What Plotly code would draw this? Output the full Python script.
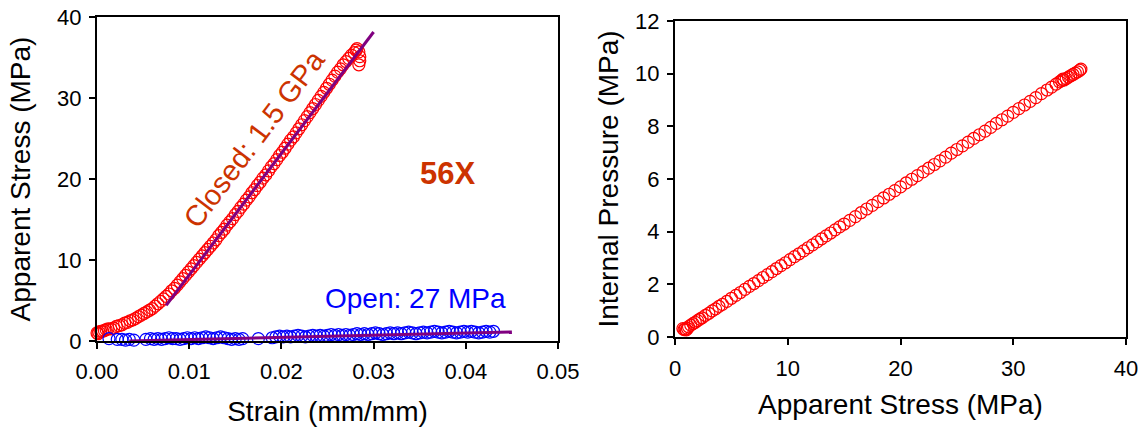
import plotly.graph_objects as go

# ---- Left panel: apparent stress vs strain ----
closed_strain = [
    0.0000, 0.0001, 0.0002, 0.0004, 0.0006, 0.0008, 0.0010, 0.0012, 0.0015, 0.0018,
    0.0021, 0.0024, 0.0027, 0.0030, 0.0033, 0.0036, 0.0039, 0.0042, 0.0045, 0.0048,
    0.0051, 0.0054, 0.0057, 0.0060, 0.0063, 0.0066, 0.0069, 0.0072, 0.0075, 0.0078,
    0.0081, 0.0084, 0.0087, 0.0090, 0.0093, 0.0096, 0.0099, 0.0102, 0.0105, 0.0108,
    0.0111, 0.0114, 0.0117, 0.0120, 0.0123, 0.0126, 0.0129, 0.0132, 0.0135, 0.0138,
    0.0141, 0.0144, 0.0147, 0.0150, 0.0153, 0.0156, 0.0159, 0.0162, 0.0165, 0.0168,
    0.0171, 0.0174, 0.0177, 0.0180, 0.0183, 0.0186, 0.0189, 0.0192, 0.0195, 0.0198,
    0.0201, 0.0204, 0.0207, 0.0210, 0.0213, 0.0216, 0.0219, 0.0222, 0.0225, 0.0228,
    0.0231, 0.0234, 0.0237, 0.0240, 0.0243, 0.0246, 0.0249, 0.0252, 0.0255, 0.0258,
    0.0261, 0.0264, 0.0267, 0.0270, 0.0273, 0.0276, 0.0279, 0.0281, 0.0282, 0.0284,
    0.0285, 0.0285, 0.0284,
]
closed_stress = [
    1.0, 0.9, 1.1, 1.2, 1.2, 1.3, 1.4, 1.5, 1.5, 1.6,
    1.8, 1.9, 2.0, 2.2, 2.3, 2.5, 2.6, 2.8, 3.0, 3.2,
    3.4, 3.6, 3.8, 4.0, 4.3, 4.6, 4.9, 5.2, 5.5, 5.8,
    6.2, 6.5, 6.9, 7.3, 7.7, 8.1, 8.5, 8.9, 9.3, 9.7,
    10.1, 10.5, 10.9, 11.3, 11.7, 12.1, 12.5, 13.0, 13.4, 13.8,
    14.3, 14.7, 15.1, 15.6, 16.0, 16.5, 16.9, 17.4, 17.8, 18.3,
    18.7, 19.2, 19.6, 20.1, 20.5, 21.0, 21.5, 21.9, 22.4, 22.9,
    23.3, 23.8, 24.3, 24.8, 25.2, 25.7, 26.2, 26.7, 27.2, 27.7,
    28.2, 28.7, 29.2, 29.7, 30.2, 30.7, 31.2, 31.7, 32.2, 32.7,
    33.2, 33.6, 34.1, 34.5, 34.9, 35.3, 35.6, 35.9, 36.1, 35.7,
    35.1, 34.6, 34.1,
]

open_strain = [
    0.0013, 0.0022, 0.0027, 0.0031, 0.0035, 0.0040, 0.0053, 0.0058, 0.0062, 0.0066,
    0.0070, 0.0074, 0.0078, 0.0082, 0.0086, 0.0090, 0.0094, 0.0098, 0.0102, 0.0106,
    0.0110, 0.0114, 0.0118, 0.0122, 0.0126, 0.0130, 0.0134, 0.0138, 0.0142, 0.0146,
    0.0150, 0.0154, 0.0158, 0.0175, 0.0190, 0.0194, 0.0198, 0.0202, 0.0206, 0.0210,
    0.0214, 0.0218, 0.0222, 0.0226, 0.0230, 0.0234, 0.0238, 0.0242, 0.0246, 0.0250,
    0.0254, 0.0258, 0.0262, 0.0266, 0.0270, 0.0274, 0.0278, 0.0282, 0.0286, 0.0290,
    0.0294, 0.0298, 0.0302, 0.0306, 0.0310, 0.0314, 0.0318, 0.0322, 0.0326, 0.0330,
    0.0334, 0.0338, 0.0342, 0.0346, 0.0350, 0.0354, 0.0358, 0.0362, 0.0366, 0.0370,
    0.0374, 0.0378, 0.0382, 0.0386, 0.0390, 0.0394, 0.0398, 0.0402, 0.0406, 0.0410,
    0.0414, 0.0418, 0.0422, 0.0426, 0.0430,
]
open_stress = [
    0.3, 0.2, 0.2, 0.1, 0.2, 0.1, 0.2, 0.3, 0.2, 0.3,
    0.2, 0.3, 0.4, 0.3, 0.3, 0.2, 0.3, 0.4, 0.3, 0.4,
    0.3, 0.4, 0.5, 0.4, 0.3, 0.4, 0.5, 0.4, 0.3, 0.2,
    0.3, 0.2, 0.3, 0.3, 0.4, 0.5, 0.6, 0.5, 0.6, 0.5,
    0.6, 0.7, 0.6, 0.5, 0.6, 0.7, 0.6, 0.7, 0.6, 0.7,
    0.8, 0.7, 0.8, 0.7, 0.8, 0.7, 0.8, 0.9, 0.8, 0.9,
    0.8, 0.9, 1.0, 0.9, 0.8, 0.9, 1.0, 0.9, 1.0, 0.9,
    1.0, 1.1, 1.0, 0.9, 1.0, 1.1, 1.0, 1.1, 1.2, 1.1,
    1.0, 1.1, 1.2, 1.1, 1.0, 1.1, 1.2, 1.1, 1.2, 1.1,
    1.0, 1.1, 1.2, 1.1, 1.2,
]

# Linear fits (modulus lines)
closed_fit_strain = [0.0075, 0.0300]
closed_fit_stress = [4.4, 38.15]
open_fit_strain = [0.0035, 0.0450]
open_fit_stress = [0.0, 1.12]

# ---- Right panel: internal pressure vs apparent stress ----
app_stress = [
    0.7, 0.8, 0.9, 1.0, 1.1, 1.2, 1.4, 1.6, 1.8, 2.0,
    2.2, 2.4, 2.7, 3.0, 3.3, 3.6, 3.9, 4.2, 4.6, 5.0,
    5.4, 5.8, 6.2, 6.6, 7.0, 7.4, 7.8, 8.2, 8.6, 9.0,
    9.4, 9.8, 10.2, 10.6, 11.0, 11.4, 11.8, 12.2, 12.6, 13.0,
    13.4, 13.8, 14.2, 14.6, 15.0, 15.5, 16.0, 16.5, 17.0, 17.5,
    18.0, 18.5, 19.0, 19.5, 20.0, 20.5, 21.0, 21.5, 22.0, 22.5,
    23.0, 23.5, 24.0, 24.5, 25.0, 25.5, 26.0, 26.5, 27.0, 27.5,
    28.0, 28.5, 29.0, 29.5, 30.0, 30.5, 31.0, 31.5, 32.0, 32.5,
    33.0, 33.4, 33.8, 34.1, 34.3, 34.5, 34.4, 34.7, 34.9, 35.1,
    35.3, 35.5, 35.7, 35.9, 36.0,
]
int_pressure = [
    0.32, 0.28, 0.30, 0.27, 0.33, 0.39, 0.45, 0.51, 0.56, 0.62,
    0.68, 0.73, 0.82, 0.90, 0.99, 1.07, 1.16, 1.24, 1.35, 1.47,
    1.58, 1.69, 1.81, 1.92, 2.03, 2.14, 2.26, 2.37, 2.48, 2.60,
    2.71, 2.82, 2.94, 3.05, 3.16, 3.27, 3.39, 3.50, 3.61, 3.73,
    3.84, 3.95, 4.07, 4.18, 4.29, 4.43, 4.57, 4.72, 4.86, 5.00,
    5.14, 5.28, 5.42, 5.56, 5.70, 5.85, 5.99, 6.13, 6.27, 6.41,
    6.55, 6.69, 6.83, 6.98, 7.12, 7.26, 7.40, 7.54, 7.68, 7.82,
    7.96, 8.11, 8.25, 8.39, 8.53, 8.67, 8.81, 8.95, 9.09, 9.24,
    9.38, 9.49, 9.60, 9.69, 9.74, 9.76, 9.79, 9.81, 9.87, 9.92,
    9.97, 10.02, 10.07, 10.13, 10.17,
]

RED = "#FF0000"
BLUE = "#0000FF"
PURPLE = "#800080"
ORANGE = "#CC3300"
FONT = "Liberation Sans, Arial, sans-serif"

fig = go.Figure()

marker_common = dict(symbol="circle-open", size=12, line=dict(width=1.2))

fig.add_trace(go.Scatter(x=closed_strain, y=closed_stress, mode="markers",
                         marker=dict(color=RED, **marker_common),
                         cliponaxis=False, xaxis="x", yaxis="y"))
fig.add_trace(go.Scatter(x=open_strain, y=open_stress, mode="markers",
                         marker=dict(color=BLUE, **marker_common),
                         cliponaxis=False, xaxis="x", yaxis="y"))
fig.add_trace(go.Scatter(x=closed_fit_strain, y=closed_fit_stress, mode="lines",
                         line=dict(color=PURPLE, width=3), xaxis="x", yaxis="y"))
fig.add_trace(go.Scatter(x=open_fit_strain, y=open_fit_stress, mode="lines",
                         line=dict(color=PURPLE, width=3), xaxis="x", yaxis="y"))
fig.add_trace(go.Scatter(x=app_stress, y=int_pressure, mode="markers",
                         marker=dict(color=RED, **marker_common),
                         cliponaxis=False, xaxis="x2", yaxis="y2"))

axis_common = dict(
    showline=True, linecolor="black", linewidth=2, mirror=True,
    ticks="outside", ticklen=6, tickwidth=2, tickcolor="black",
    showgrid=False, zeroline=False, automargin=False,
    tickfont=dict(family=FONT, size=22, color="black"),
    title_font=dict(family=FONT, size=28, color="black"),
)

W, H = 1144, 427
def px_x(p):
    return p / W
def px_y(p):
    return 1 - p / H

fig.update_layout(
    template="none",
    width=W, height=H,
    margin=dict(l=0, r=0, t=0, b=0, autoexpand=False),
    paper_bgcolor="white", plot_bgcolor="white",
    font=dict(family=FONT, color="black"),
    showlegend=False,
    xaxis=dict(domain=[px_x(97), px_x(558)], range=[0, 0.05], dtick=0.01,
               tickformat=".2f", anchor="y", ticklabelstandoff=4,
               title=dict(text="Strain (mm/mm)", standoff=20), **axis_common),
    yaxis=dict(domain=[px_y(341), px_y(17)], range=[0, 40], dtick=10, anchor="x",
               ticklabelstandoff=3,
               title=dict(text="Apparent Stress (MPa)", standoff=18), **axis_common),
    xaxis2=dict(domain=[px_x(675), px_x(1126)], range=[0, 40], dtick=10, anchor="y2",
                ticklabelstandoff=5,
                title=dict(text="Apparent Stress (MPa)", standoff=14), **axis_common),
    yaxis2=dict(domain=[px_y(337), px_y(21)], range=[0, 12], dtick=2, anchor="x2",
                ticklabelstandoff=3,
                title=dict(text="Internal Pressure (MPa)", standoff=8), **axis_common),
    annotations=[
        dict(x=0.01700, y=25.0, xref="x", yref="y", text="Closed: 1.5 GPa",
             textangle=-53, showarrow=False,
             font=dict(family=FONT, size=29, color=ORANGE)),
        dict(x=0.0380, y=20.7, xref="x", yref="y", text="<b>56X</b>",
             showarrow=False, font=dict(family=FONT, size=31, color=ORANGE)),
        dict(x=0.0345, y=5.3, xref="x", yref="y", text="Open: 27 MPa",
             showarrow=False, font=dict(family=FONT, size=28, color=BLUE)),
    ],
)

fig.write_html("out.html")
